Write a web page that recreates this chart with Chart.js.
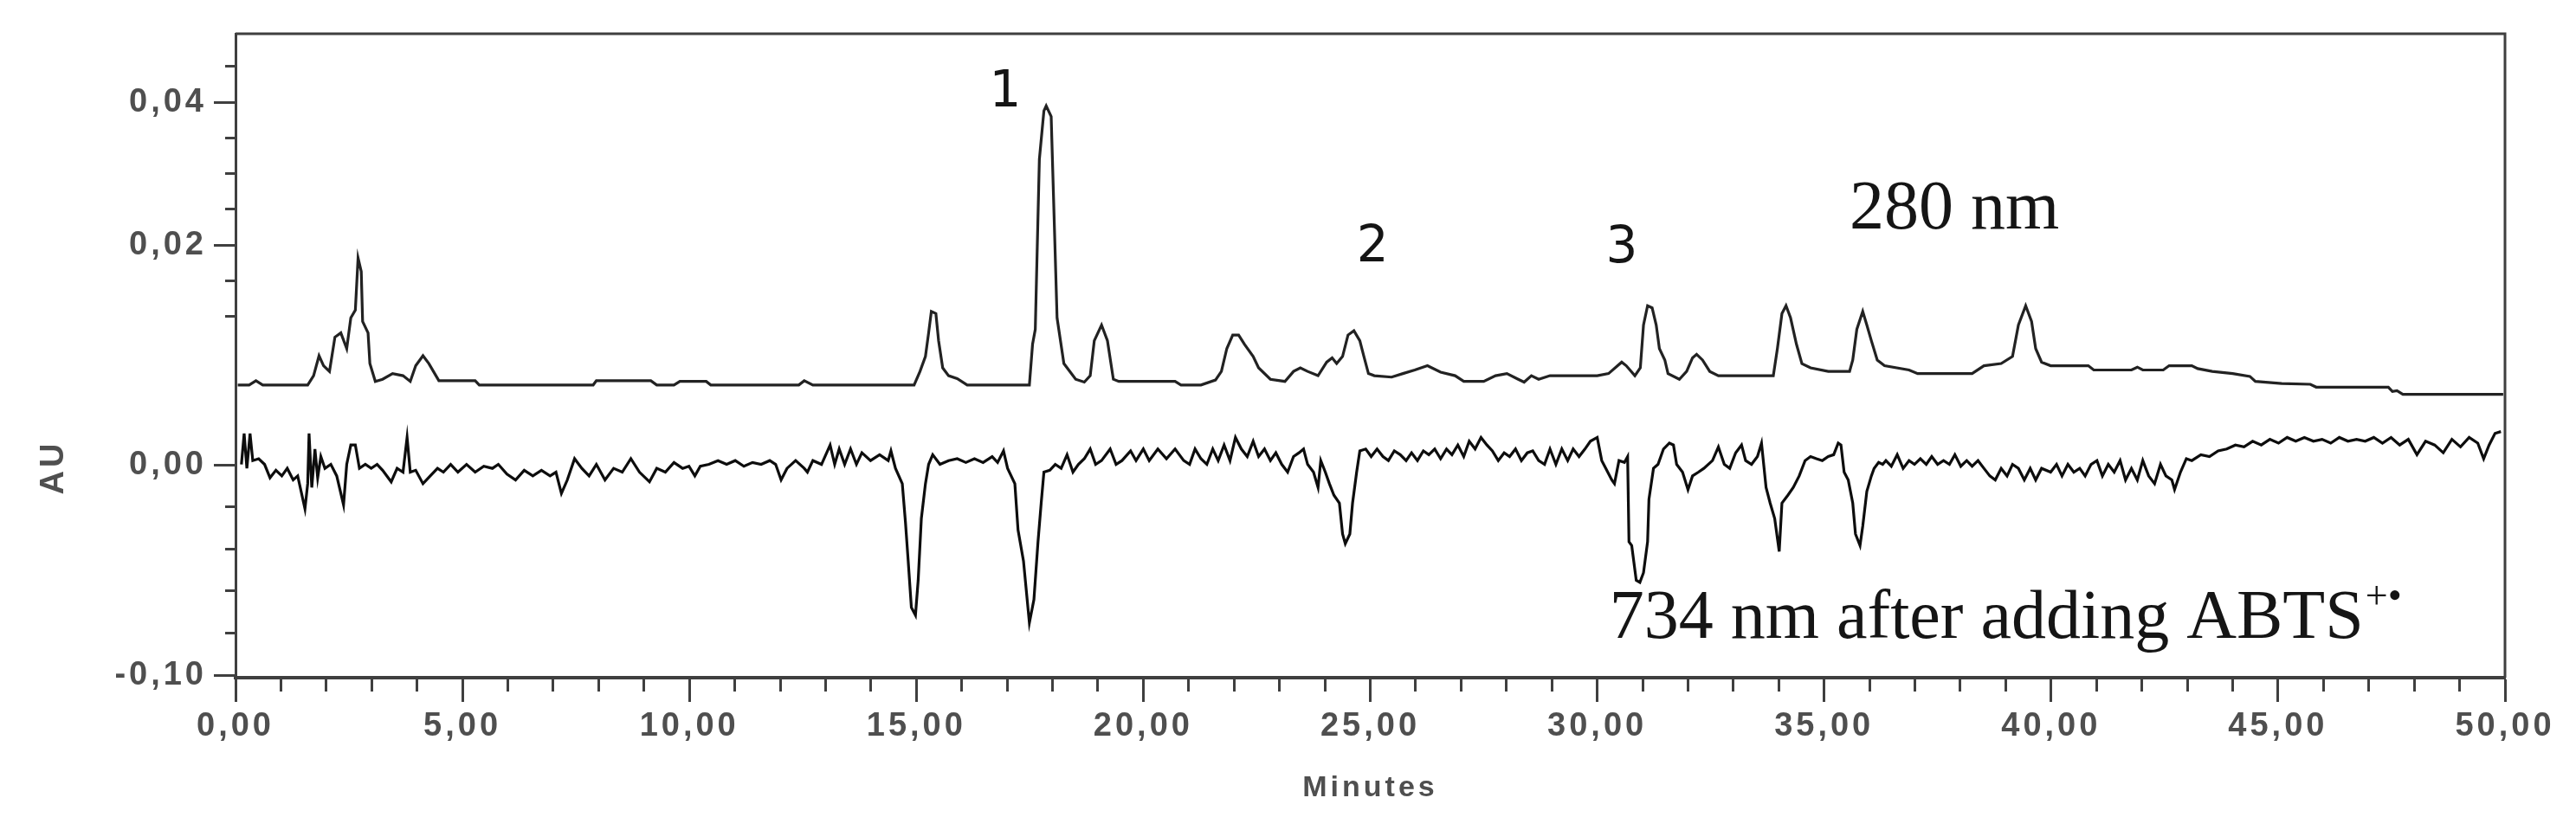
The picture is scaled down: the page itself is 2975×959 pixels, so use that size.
<!DOCTYPE html>
<html>
<head>
<meta charset="utf-8">
<script src="https://cdn.jsdelivr.net/npm/chart.js@4.4.1/dist/chart.umd.min.js"></script>
<style>
  html, body { margin: 0; padding: 0; background: #fff; }
  #wrap { width: 2975px; height: 959px; }
</style>
</head>
<body>
<div id="wrap"><canvas id="myChart"></canvas></div>
<script>
// Traço a 280 nm: tempo (min) e absorvância (AU)
const time280 = [
  0.05, 0.30, 0.45, 0.60, 1.59, 1.72, 1.84, 1.94, 2.07, 2.19, 2.32, 2.45, 2.54, 2.64, 2.70, 2.77, 2.80, 2.92, 2.96, 3.08, 3.24, 3.46, 3.69, 3.85, 3.97, 4.13, 4.26, 4.48, 5.28, 5.37, 7.88, 7.95, 9.15, 9.28, 9.66, 9.79,
  10.37, 10.47, 12.41, 12.53, 12.72, 14.95, 15.08, 15.20, 15.27, 15.33, 15.43, 15.49, 15.58, 15.71, 15.90, 16.12, 17.49, 17.56, 17.62, 17.71, 17.81, 17.86, 17.97, 18.10, 18.25, 18.51, 18.70, 18.83, 18.92, 19.08, 19.21, 19.34, 19.46,
  20.70, 20.83, 21.27, 21.59, 21.72, 21.84, 21.97, 22.10, 22.23, 22.42, 22.54, 22.80, 23.12, 23.31, 23.46, 23.62, 23.85, 24.04, 24.16, 24.26, 24.39, 24.51, 24.64, 24.77, 24.86, 24.96, 25.09, 25.47, 25.72, 25.98, 26.26, 26.55, 26.87, 27.06, 27.50, 27.76, 28.01, 28.26, 28.39, 28.55, 28.71, 28.96,
  30.00, 30.25, 30.45, 30.54, 30.64, 30.83, 30.95, 31.02, 31.11, 31.21, 31.30, 31.37, 31.49, 31.56, 31.81, 31.97, 32.10, 32.19, 32.32, 32.48, 32.67, 33.88, 33.97, 34.07, 34.16, 34.26, 34.39, 34.51, 34.70, 35.09, 35.56, 35.63, 35.72, 35.85, 35.94, 36.04, 36.17, 36.33, 36.87, 37.06, 38.26, 38.52, 38.90, 39.15, 39.28, 39.44, 39.57, 39.66, 39.79,
  39.99, 40.82, 40.94, 41.77, 41.90, 42.02, 42.47, 42.60, 43.10, 43.23, 43.55, 44.00, 44.38, 44.50, 45.08, 45.71, 45.84, 47.43, 47.52, 47.62, 47.75, 49.96
];
const au280 = [
  0.0004, 0.0004, 0.0010, 0.0004, 0.0004, 0.0017, 0.0045, 0.0031, 0.0023, 0.0071, 0.0077, 0.0055, 0.0098, 0.0109, 0.0182, 0.0163, 0.0093, 0.0077, 0.0034, 0.0009, 0.0012, 0.0020, 0.0017, 0.0009, 0.0031, 0.0045, 0.0034, 0.0010, 0.0010, 0.0004, 0.0004, 0.0010, 0.0010, 0.0004, 0.0004, 0.0009,
  0.0009, 0.0004, 0.0004, 0.0010, 0.0004, 0.0004, 0.0023, 0.0044, 0.0077, 0.0107, 0.0104, 0.0066, 0.0028, 0.0017, 0.0013, 0.0004, 0.0004, 0.0061, 0.0082, 0.0320, 0.0388, 0.0395, 0.0380, 0.0098, 0.0034, 0.0012, 0.0008, 0.0017, 0.0066, 0.0088, 0.0066, 0.0012, 0.0009,
  0.0009, 0.0004, 0.0004, 0.0011, 0.0023, 0.0055, 0.0074, 0.0074, 0.0061, 0.0044, 0.0028, 0.0012, 0.0009, 0.0023, 0.0028, 0.0023, 0.0017, 0.0036, 0.0042, 0.0034, 0.0044, 0.0074, 0.0080, 0.0066, 0.0044, 0.0020, 0.0017, 0.0015, 0.0020, 0.0025, 0.0031, 0.0022, 0.0017, 0.0009, 0.0009, 0.0017, 0.0020, 0.0012, 0.0008, 0.0017, 0.0012, 0.0017,
  0.0017, 0.0020, 0.0031, 0.0036, 0.0031, 0.0017, 0.0028, 0.0088, 0.0115, 0.0112, 0.0088, 0.0055, 0.0039, 0.0020, 0.0012, 0.0023, 0.0042, 0.0047, 0.0039, 0.0023, 0.0017, 0.0017, 0.0055, 0.0104, 0.0115, 0.0098, 0.0061, 0.0034, 0.0028, 0.0023, 0.0023, 0.0039, 0.0082, 0.0107, 0.0088, 0.0066, 0.0039, 0.0031, 0.0025, 0.0020, 0.0020, 0.0031, 0.0034, 0.0044, 0.0088, 0.0115, 0.0093, 0.0055, 0.0036,
  0.0031, 0.0031, 0.0025, 0.0025, 0.0029, 0.0025, 0.0025, 0.0031, 0.0031, 0.0027, 0.0023, 0.0020, 0.0016, 0.0009, 0.0006, 0.0005, 0.0001, 0.0001, -0.0005, -0.0004, -0.0009, -0.0009
];

// Traço a 734 nm depois do ABTS (picos negativos)
const time734 = [
  0.13, 0.19, 0.25, 0.32, 0.38, 0.51, 0.64, 0.76, 0.89, 1.02, 1.14, 1.27, 1.37, 1.53, 1.59, 1.62, 1.68, 1.75, 1.81, 1.88, 1.97, 2.10, 2.23, 2.38, 2.45, 2.54, 2.64, 2.73, 2.86, 2.99, 3.12, 3.24, 3.43, 3.56, 3.69, 3.78, 3.85, 3.97, 4.13, 4.29, 4.45, 4.58, 4.74, 4.90, 5.09, 5.28, 5.47, 5.66, 5.79, 5.98, 6.17, 6.36, 6.55, 6.74, 6.93, 7.06, 7.18, 7.31, 7.47, 7.63, 7.79, 7.95, 8.14, 8.33, 8.52, 8.71, 8.90, 9.12, 9.28, 9.47, 9.66, 9.85,
  9.99, 10.12, 10.24, 10.43, 10.63, 10.82, 11.01, 11.20, 11.39, 11.58, 11.77, 11.90, 12.02, 12.15, 12.34, 12.53, 12.60, 12.72, 12.91, 13.10, 13.20, 13.30, 13.42, 13.55, 13.68, 13.80, 13.99, 14.19, 14.38, 14.44, 14.54, 14.69, 14.76, 14.82, 14.89, 14.98, 15.04, 15.11, 15.20, 15.27, 15.36, 15.52, 15.71, 15.90, 16.09, 16.28, 16.47, 16.67, 16.79, 16.92, 17.01, 17.17, 17.24, 17.36, 17.49, 17.59, 17.68, 17.75, 17.81, 17.94, 18.06, 18.19, 18.32, 18.45, 18.57, 18.70, 18.83, 18.95, 19.08, 19.27, 19.40, 19.53, 19.72, 19.84,
  20.00, 20.13, 20.32, 20.51, 20.70, 20.89, 21.02, 21.14, 21.27, 21.40, 21.53, 21.65, 21.78, 21.91, 22.03, 22.16, 22.29, 22.42, 22.54, 22.67, 22.80, 22.92, 23.05, 23.18, 23.31, 23.43, 23.53, 23.62, 23.75, 23.85, 23.91, 24.01, 24.10, 24.20, 24.32, 24.39, 24.45, 24.55, 24.61, 24.70, 24.77, 24.90, 25.02, 25.15, 25.28, 25.40, 25.53, 25.66, 25.79, 25.91, 26.04, 26.17, 26.29, 26.42, 26.55, 26.68, 26.80, 26.93, 27.06, 27.18, 27.31, 27.44, 27.57, 27.69, 27.82, 27.95, 28.07, 28.20, 28.33, 28.46, 28.58, 28.71, 28.84, 28.96, 29.09, 29.22, 29.35, 29.47, 29.60, 29.73, 29.85,
  30.00, 30.10, 30.19, 30.32, 30.38, 30.48, 30.60, 30.67, 30.70, 30.76, 30.86, 30.94, 31.02, 31.11, 31.14, 31.24, 31.34, 31.46, 31.59, 31.68, 31.75, 31.88, 32.00, 32.10, 32.23, 32.35, 32.54, 32.67, 32.80, 32.92, 33.05, 33.18, 33.27, 33.40, 33.53, 33.62, 33.72, 33.81, 33.91, 34.01, 34.07, 34.20, 34.32, 34.45, 34.58, 34.70, 34.83, 34.96, 35.09, 35.21, 35.31, 35.37, 35.44, 35.53, 35.63, 35.69, 35.79, 35.85, 35.94, 36.04, 36.10, 36.20, 36.29, 36.36, 36.48, 36.61, 36.74, 36.87, 36.99, 37.12, 37.25, 37.37, 37.50, 37.63, 37.76, 37.88, 38.01, 38.14, 38.26, 38.39, 38.52, 38.65, 38.77, 38.90, 39.03, 39.15, 39.28, 39.41, 39.54, 39.66, 39.79,
  39.99, 40.12, 40.24, 40.37, 40.50, 40.63, 40.75, 40.88, 41.01, 41.13, 41.26, 41.39, 41.52, 41.64, 41.77, 41.90, 42.02, 42.15, 42.28, 42.41, 42.53, 42.66, 42.72, 42.85, 42.98, 43.10, 43.30, 43.49, 43.68, 43.87, 44.06, 44.25, 44.44, 44.63, 44.82, 45.01, 45.20, 45.39, 45.58, 45.78, 45.97, 46.16, 46.35, 46.54, 46.73, 46.92, 47.11, 47.30, 47.49, 47.68, 47.87, 48.06, 48.25, 48.45, 48.64, 48.83, 49.02, 49.21, 49.40, 49.53, 49.65, 49.78, 49.91
];
const au734 = [
  0.0002, 0.0149, -0.0017, 0.0149, 0.0020, 0.0029, 0.0002, -0.0062, -0.0026, -0.0053, -0.0017, -0.0072, -0.0053, -0.0209, -0.0090, 0.0149, -0.0108, 0.0075, -0.0062, 0.0039, -0.0017, 0.0002, -0.0053, -0.0191, 0.0002, 0.0094, 0.0094, -0.0017, 0.0002, -0.0017, 0.0002, -0.0026, -0.0081, -0.0017, -0.0035, 0.0130, -0.0035, -0.0026, -0.0090, -0.0053, -0.0017, -0.0035, 0.0002, -0.0035, 0.0002, -0.0035, -0.0007, -0.0017, 0.0002, -0.0044, -0.0072, -0.0026, -0.0053, -0.0026, -0.0053, -0.0035, -0.0136, -0.0072, 0.0029, -0.0017, -0.0053, 0.0002, -0.0072, -0.0017, -0.0035, 0.0029, -0.0035, -0.0081, -0.0017, -0.0035, 0.0011, -0.0017,
  -0.0007, -0.0053, -0.0007, 0.0002, 0.0020, 0.0002, 0.0020, -0.0007, 0.0011, 0.0002, 0.0020, 0.0002, -0.0072, -0.0017, 0.0020, -0.0017, -0.0035, 0.0020, 0.0002, 0.0094, 0.0002, 0.0075, 0.0002, 0.0075, 0.0002, 0.0057, 0.0020, 0.0048, 0.0020, 0.0066, -0.0017, -0.0090, -0.0274, -0.0457, -0.0678, -0.0715, -0.0549, -0.0255, -0.0090, 0.0002, 0.0048, 0.0002, 0.0020, 0.0029, 0.0011, 0.0029, 0.0011, 0.0039, 0.0011, 0.0066, -0.0017, -0.0090, -0.0310, -0.0457, -0.0751, -0.0641, -0.0366, -0.0182, -0.0035, -0.0026, 0.0002, -0.0017, 0.0048, -0.0035, 0.0002, 0.0029, 0.0075, 0.0002, 0.0020, 0.0075, 0.0002, 0.0020, 0.0066, 0.0020,
  0.0075, 0.0020, 0.0075, 0.0029, 0.0075, 0.0020, 0.0002, 0.0075, 0.0029, 0.0002, 0.0075, 0.0020, 0.0094, 0.0020, 0.0130, 0.0075, 0.0039, 0.0112, 0.0039, 0.0075, 0.0020, 0.0057, 0.0002, -0.0035, 0.0039, 0.0057, 0.0075, 0.0002, -0.0035, -0.0108, 0.0020, -0.0035, -0.0090, -0.0145, -0.0182, -0.0329, -0.0375, -0.0329, -0.0182, -0.0035, 0.0066, 0.0075, 0.0039, 0.0075, 0.0039, 0.0020, 0.0066, 0.0048, 0.0020, 0.0057, 0.0020, 0.0066, 0.0048, 0.0075, 0.0029, 0.0075, 0.0048, 0.0094, 0.0039, 0.0112, 0.0075, 0.0130, 0.0094, 0.0066, 0.0020, 0.0057, 0.0039, 0.0075, 0.0020, 0.0057, 0.0066, 0.0020, 0.0002, 0.0075, 0.0002, 0.0075, 0.0020, 0.0075, 0.0039, 0.0075, 0.0112,
  0.0130, 0.0020, -0.0017, -0.0072, -0.0090, 0.0020, 0.0011, 0.0039, -0.0366, -0.0384, -0.0549, -0.0559, -0.0513, -0.0366, -0.0164, -0.0017, 0.0002, 0.0075, 0.0103, 0.0094, 0.0002, -0.0035, -0.0118, -0.0053, -0.0035, -0.0017, 0.0020, 0.0085, 0.0002, -0.0017, 0.0057, 0.0094, 0.0020, 0.0002, 0.0039, 0.0103, -0.0108, -0.0182, -0.0255, -0.0412, -0.0182, -0.0145, -0.0108, -0.0053, 0.0020, 0.0039, 0.0029, 0.0020, 0.0039, 0.0048, 0.0103, 0.0094, -0.0035, -0.0072, -0.0182, -0.0329, -0.0384, -0.0292, -0.0127, -0.0053, -0.0017, 0.0011, 0.0002, 0.0020, -0.0007, 0.0048, -0.0017, 0.0020, 0.0002, 0.0029, 0.0002, 0.0039, 0.0002, 0.0020, 0.0002, 0.0048, -0.0007, 0.0020, -0.0007, 0.0020, -0.0017, -0.0053, -0.0072, -0.0017, -0.0053, 0.0002, -0.0017, -0.0072, -0.0017, -0.0072, -0.0017,
  -0.0035, 0.0002, -0.0053, 0.0002, -0.0035, -0.0017, -0.0053, 0.0002, 0.0020, -0.0053, 0.0002, -0.0035, 0.0020, -0.0072, -0.0017, -0.0072, 0.0020, -0.0053, -0.0090, 0.0002, -0.0053, -0.0072, -0.0118, -0.0035, 0.0029, 0.0020, 0.0048, 0.0039, 0.0066, 0.0075, 0.0094, 0.0085, 0.0112, 0.0094, 0.0121, 0.0103, 0.0130, 0.0112, 0.0130, 0.0112, 0.0121, 0.0103, 0.0130, 0.0112, 0.0121, 0.0112, 0.0130, 0.0103, 0.0130, 0.0094, 0.0121, 0.0048, 0.0112, 0.0094, 0.0057, 0.0121, 0.0085, 0.0130, 0.0103, 0.0029, 0.0094, 0.0149, 0.0158
];

// Marcas do eixo X (minutos) e rótulos
const xMinutes = [0, 1, 2, 3, 4, 5, 6, 7, 8, 9, 10, 11, 12, 13, 14, 15, 16, 17, 18, 19, 20, 21, 22, 23, 24, 25, 26, 27, 28, 29, 30, 31, 32, 33, 34, 35, 36, 37, 38, 39, 40, 41, 42, 43, 44, 45, 46, 47, 48, 49, 50];
const xMajor = [0, 5, 10, 15, 20, 25, 30, 35, 40, 45, 50];
const xTickLabels = ['0,00', '5,00', '10,00', '15,00', '20,00', '25,00', '30,00', '35,00', '40,00', '45,00', '50,00'];

// Marcas do eixo Y: parte de cima na escala 280 nm, parte de baixo na escala 734 nm
const yTicks280 = [0.045, 0.04, 0.035, 0.03, 0.025, 0.02, 0.015, 0.01];
const yLabels280 = ['', '0,04', '', '', '', '0,02', '', ''];
const yTicks734 = [0, -0.02, -0.04, -0.06, -0.08, -0.1];
const yLabels734 = ['0,00', '', '', '', '', '-0,10'];

// Números dos picos
const peakNames = ['1', '2', '3'];

// Faixas das duas escalas (dividem a mesma área)
const Y280 = { min: -0.0406, max: 0.0496 };
const Y734 = { min: -0.1012, max: 0.2049 };

const axisColor = '#3f3f3f';
const labelColor = '#4f4f4f';
const tickFont = { family: 'Liberation Sans', size: 38, weight: 'bold' };

const near = (a, b) => Math.abs(a - b) < 1e-6;

// Textos e moldura
const notesPlugin = {
    id: 'notes',
    beforeDraw(chart) {
        chart.ctx.letterSpacing = '4px'; // rótulos espaçados como no original
    },
    afterDraw(chart) {
        const { ctx, chartArea: a, scales } = chart;
        const x = scales.x, y = scales.y, y2 = scales.y2;
        ctx.letterSpacing = '0px';
        ctx.save();

        // moldura de cima e da direita
        ctx.strokeStyle = axisColor;
        ctx.lineWidth = 3;
        ctx.beginPath();
        ctx.moveTo(a.left, a.top);
        ctx.lineTo(a.right, a.top);
        ctx.lineTo(a.right, a.bottom);
        ctx.stroke();

        // AU
        ctx.save();
        ctx.translate(63, y.getPixelForValue(0) + 3);
        ctx.rotate(-Math.PI / 2);
        ctx.letterSpacing = '4px';
        ctx.font = 'bold 38px "Liberation Sans"';
        ctx.fillStyle = labelColor;
        ctx.textAlign = 'center';
        ctx.textBaseline = 'middle';
        ctx.fillText('AU', 0, 0);
        ctx.restore();

        // picos 1, 2, 3
        ctx.fillStyle = '#151515';
        ctx.font = '58px "DejaVu Sans"';
        ctx.textAlign = 'center';
        ctx.textBaseline = 'middle';
        const spots = [[16.96, 0.0413], [25.05, 0.0195], [30.54, 0.0194]];
        peakNames.forEach((name, i) => {
            ctx.fillText(name, x.getPixelForValue(spots[i][0]), y2.getPixelForValue(spots[i][1]));
        });

        // legendas dos traços
        ctx.font = '80px "Liberation Serif"';
        ctx.textAlign = 'left';
        ctx.textBaseline = 'alphabetic';
        ctx.fillText('280 nm', x.getPixelForValue(35.56), y2.getPixelForValue(0.0223));

        const tx = x.getPixelForValue(30.27);
        const ty = y.getPixelForValue(-0.0823);
        const main = '734 nm after adding ABTS';
        ctx.fillText(main, tx, ty);
        const w = ctx.measureText(main).width;
        ctx.font = '46px "Liberation Serif"';
        ctx.fillText('+•', tx + w + 2, ty - 34);

        ctx.restore();
    }
};

const config = {
    type: 'line',
    data: {
        datasets: [{
            label: '280 nm',
            data: time280.map((t, i) => ({ x: t, y: au280[i] })),
            yAxisID: 'y2',
            borderColor: '#222',
            borderWidth: 3.2,
            pointRadius: 0,
            tension: 0,
            fill: false
        }, {
            label: '734 nm after adding ABTS',
            data: time734.map((t, i) => ({ x: t, y: au734[i] })),
            yAxisID: 'y',
            borderColor: '#0d0d0d',
            borderWidth: 3.2,
            pointRadius: 0,
            tension: 0,
            fill: false
        }]
    },
    options: {
        responsive: true,
        maintainAspectRatio: false,
        animation: false,
        events: [],
        layout: { padding: { left: 0, top: 39, right: 82, bottom: 0 } },
        plugins: {
            legend: { display: false },
            tooltip: { enabled: false }
        },
        scales: {
            x: {
                type: 'linear',
                position: 'bottom',
                min: 0,
                max: 50,
                afterBuildTicks: (scale) => {
                    scale.ticks = xMinutes.map(v => ({ value: v }));
                },
                afterFit: (scale) => { scale.height = 176; },
                border: { display: true, color: axisColor, width: 4 },
                grid: {
                    drawOnChartArea: false,
                    drawTicks: true,
                    tickLength: 28,
                    tickColor: axisColor,
                    tickWidth: 3,
                    tickBorderDash: (c) => (c.tick && !xMajor.some(m => near(m, c.tick.value)) ? [14, 60] : [])
                },
                ticks: {
                    autoSkip: false,
                    maxRotation: 0,
                    padding: 6,
                    color: labelColor,
                    font: tickFont,
                    callback: (value) => {
                        const k = xMajor.findIndex(m => near(m, value));
                        return k >= 0 ? xTickLabels[k] : '';
                    }
                },
                title: {
                    display: true,
                    text: 'Minutes',
                    color: labelColor,
                    font: { family: 'Liberation Sans', size: 34, weight: 'bold' },
                    padding: { top: 0, bottom: 28 }
                }
            },
            y: {
                type: 'linear',
                position: 'left',
                min: Y734.min,
                max: Y734.max,
                afterBuildTicks: (scale) => {
                    const onLower = v => Y734.min + (v - Y280.min) / (Y280.max - Y280.min) * (Y734.max - Y734.min);
                    const list = [];
                    yTicks280.forEach((v, i) => list.push({ value: onLower(v), text: yLabels280[i] }));
                    yTicks734.forEach((v, i) => list.push({ value: v, text: yLabels734[i] }));
                    list.sort((p, q) => p.value - q.value);
                    scale.ticks = list;
                },
                afterFit: (scale) => { scale.width = 272; },
                border: { display: true, color: axisColor, width: 3 },
                grid: {
                    drawOnChartArea: false,
                    drawTicks: true,
                    tickLength: 25,
                    tickColor: axisColor,
                    tickWidth: 3,
                    tickBorderDash: (c) => (c.tick && c.tick.text === '' ? [0, 13, 12, 0] : [])
                },
                ticks: {
                    autoSkip: false,
                    padding: 8,
                    color: labelColor,
                    font: tickFont,
                    callback: (value, index, ticks) => ticks[index].text
                }
            },
            y2: {
                type: 'linear',
                display: false,
                min: Y280.min,
                max: Y280.max
            }
        }
    },
    plugins: [notesPlugin]
};

new Chart(document.getElementById('myChart'), config);
</script>
</body>
</html>
